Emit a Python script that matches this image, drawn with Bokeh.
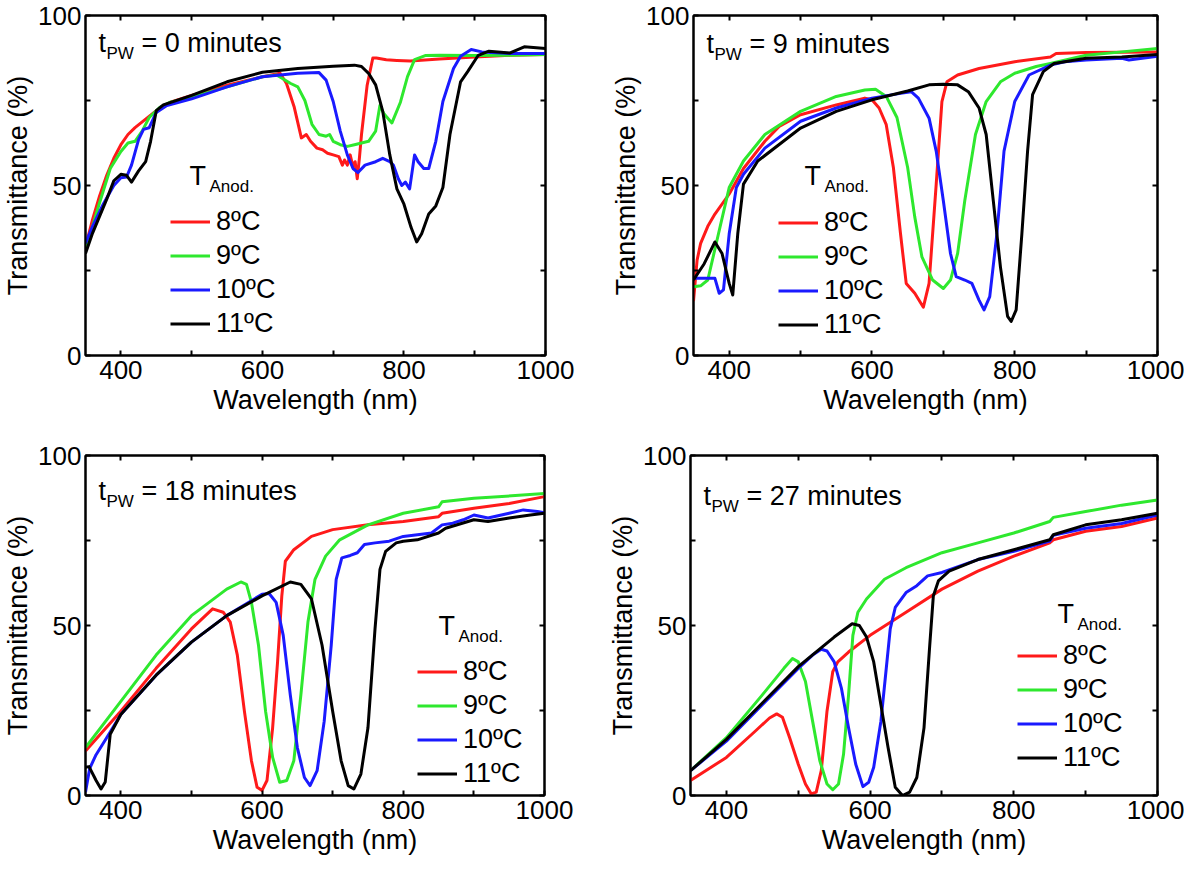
from bokeh.plotting import figure
from bokeh.models import Range1d, FixedTicker, LinearAxis, Legend, LegendItem, Label
from bokeh.layouts import column, row
from bokeh.embed import file_html
from bokeh.resources import INLINE

FONT = "Liberation Sans"

# ---------------- data ----------------
temps = ["8ºC", "9ºC", "10ºC", "11ºC"]
colors = ["#ff1a1a", "#2ee82e", "#1a1aff", "#000000"]
times = ["0", "9", "18", "27"]
x_ticks = [400, 600, 800, 1000]
x_minor = [500, 700, 900]
y_ticks = [0, 50, 100]
y_minor = [25, 75]

# t_PW = 0 minutes
wl_0_8 = [350, 360, 370, 380, 390, 400, 410, 420, 435, 450, 470, 500, 550, 600, 625, 634, 645, 655, 662, 668, 677, 685, 692, 700, 708, 713, 716, 720, 724, 728, 731, 734, 737, 740, 748, 756, 761, 775, 790, 809, 850, 900, 950, 1000]
tr_0_8 = [32, 40, 47, 53, 58, 62, 65, 67, 69.5, 72, 74.5, 76.5, 79.5, 82, 83, 80, 73, 64, 65, 63, 61, 60.5, 59.5, 59, 58.5, 56, 57.5, 56, 59, 55.5, 57, 52, 58, 65, 79.5, 87.5, 87.5, 87, 86.8, 86.6, 87.2, 87.8, 88.3, 88.5]
wl_0_9 = [350, 360, 370, 385, 400, 410, 420, 430, 440, 455, 470, 500, 550, 600, 620, 640, 650, 660, 670, 680, 690, 695, 700, 710, 720, 730, 740, 750, 760, 766, 772, 783, 795, 805, 815, 830, 850, 900, 950, 1000]
tr_0_9 = [31, 38, 45, 55, 60, 62.5, 63, 66, 70, 73, 74.5, 76, 79, 82, 82.5, 80, 79, 75, 68, 65, 64.5, 65, 63, 62, 61.5, 62, 62.5, 63, 66, 73.5, 71, 68.4, 74.5, 82, 87, 88.2, 88.3, 88.2, 88.3, 88.5]
wl_0_10 = [350, 360, 375, 390, 400, 408, 415, 425, 432, 440, 450, 465, 500, 550, 600, 650, 680, 690, 700, 710, 720, 728, 735, 745, 760, 770, 780, 785, 792, 797, 802, 808, 815, 820, 828, 835, 845, 855, 870, 880, 895, 910, 950, 1000]
tr_0_10 = [33, 38, 44.5, 50, 52.3, 52.5, 56, 63.5, 66.5, 67, 71.5, 73.5, 75.5, 79, 82, 83, 83.2, 81, 74.7, 66, 59, 55, 53.8, 56, 57, 58, 57, 56, 52, 50, 51, 49, 59, 57, 55, 55, 63, 74.7, 84.4, 88, 90, 89.3, 88.8, 88.8]
wl_0_11 = [350, 360, 370, 380, 390, 400, 408, 415, 425, 435, 442, 450, 460, 500, 550, 600, 650, 700, 730, 740, 750, 760, 770, 780, 790, 800, 810, 818, 825, 835, 845, 855, 865, 880, 890, 905, 920, 950, 970, 1000]
tr_0_11 = [30, 36, 41, 46, 51.4, 53.3, 53, 51, 54.3, 57, 63, 72, 73.7, 76.5, 80.5, 83.3, 84.4, 85.1, 85.4, 85, 83, 79.6, 71.8, 59, 49, 44.5, 37.7, 33.4, 35.8, 41.6, 44, 49.4, 65, 80.5, 83.5, 88.3, 89.5, 89, 90.8, 90.3]

# t_PW = 9 minutes
wl_9_8 = [350, 355, 360, 370, 380, 400, 420, 450, 470, 500, 550, 590, 600, 610, 620, 630, 640, 648, 660, 672, 680, 690, 698, 705, 720, 750, 800, 850, 858, 900, 1000]
tr_9_8 = [16, 28, 33, 38, 41.6, 47.5, 55, 63, 67.4, 70.8, 73.7, 75.7, 75.2, 72.8, 67.9, 55.3, 35.8, 21.2, 18.3, 14.2, 21.2, 50.4, 74.7, 80.5, 82.5, 84.4, 86.4, 87.8, 88.8, 89.1, 89.3]
wl_9_9 = [350, 360, 370, 385, 400, 420, 450, 500, 550, 590, 605, 620, 635, 650, 660, 670, 685, 700, 710, 720, 730, 745, 760, 780, 800, 830, 850, 900, 950, 1000]
tr_9_9 = [20.2, 20.5, 22.2, 35.8, 49.4, 57.2, 65, 71.8, 76.2, 78.1, 78.3, 76.2, 70, 55.3, 40.7, 29, 22.2, 19.7, 22.2, 30, 45.5, 65, 74.7, 80.5, 83, 85, 85.9, 88.3, 89.3, 90.3]
wl_9_10 = [350, 365, 380, 386, 392, 400, 410, 420, 450, 500, 550, 600, 640, 655, 665, 680, 690, 700, 710, 718, 730, 740, 750, 757, 765, 775, 785, 800, 820, 850, 870, 900, 950, 960, 1000]
tr_9_10 = [22.7, 22.7, 22.7, 18.3, 19.3, 35.8, 49.4, 53.3, 61, 68.9, 72.8, 75.7, 77.1, 77.6, 75.7, 69.8, 60.1, 45.5, 30, 23.2, 22.2, 21.2, 16.3, 13.4, 17.3, 35.8, 60.1, 74.7, 82.5, 85.4, 86.4, 86.9, 87.4, 86.9, 88]
wl_9_11 = [350, 365, 380, 390, 400, 405, 412, 420, 440, 500, 550, 600, 650, 680, 700, 720, 735, 750, 760, 770, 780, 790, 795, 802, 810, 818, 825, 840, 855, 900, 950, 1000]
tr_9_11 = [22.2, 27, 33.4, 30, 21.2, 17.8, 35.8, 50.4, 57.2, 66.9, 71.8, 75.2, 77.8, 79.6, 79.8, 79.6, 77.6, 72.8, 65, 45.5, 26, 11.5, 10, 13.4, 35.8, 60.1, 76.7, 83.5, 85.9, 87.4, 87.8, 88.5]

# t_PW = 18 minutes
wl_18_8 = [350, 400, 450, 500, 530, 545, 555, 565, 575, 585, 593, 600, 607, 615, 622, 628, 633, 645, 670, 700, 750, 800, 850, 855, 900, 950, 1000]
tr_18_8 = [13.1, 24.8, 37.4, 49, 54.9, 53.9, 51, 41.3, 24.8, 10.2, 2.4, 1.5, 4.4, 19.9, 39.3, 58.7, 68.9, 72.3, 76.2, 78.2, 79.6, 80.6, 82, 83, 84.5, 85.9, 87.9]
wl_18_9 = [350, 400, 450, 500, 550, 570, 578, 585, 595, 605, 615, 625, 635, 645, 655, 665, 675, 690, 710, 750, 800, 850, 855, 900, 1000]
tr_18_9 = [14.1, 27.7, 41.3, 52.9, 60.7, 62.8, 62.1, 56.8, 44.2, 24.8, 11.2, 3.9, 4.4, 10.2, 29.6, 51, 63.6, 70.4, 75.2, 79.6, 83, 84.9, 86.4, 87.4, 88.8]
wl_18_10 = [350, 356, 365, 380, 400, 450, 500, 550, 600, 610, 620, 630, 640, 650, 660, 668, 678, 688, 698, 705, 713, 725, 735, 745, 760, 780, 800, 820, 840, 855, 870, 885, 900, 920, 950, 970, 990, 1000]
tr_18_10 = [1, 8, 12, 17, 23.8, 35.4, 45.1, 52.9, 59.2, 59.4, 56.8, 47.1, 29.6, 14.1, 5.3, 2.9, 7.3, 21.8, 44.2, 63.6, 69.9, 70.6, 71.4, 73.8, 74.3, 74.8, 76.2, 76.7, 77.2, 79.6, 80.1, 81.1, 82.5, 81.6, 83, 84, 83.5, 83.2]
wl_18_11 = [350, 355, 365, 372, 378, 385, 400, 450, 500, 550, 600, 640, 655, 670, 685, 700, 712, 722, 730, 740, 750, 760, 767, 775, 790, 800, 820, 850, 860, 900, 920, 950, 980, 1000]
tr_18_11 = [8.3, 8.5, 4.4, 1.9, 4, 18, 23.8, 35.4, 45.1, 52.9, 58.7, 62.8, 62.1, 57.8, 44.2, 24.8, 10.2, 2.9, 1.9, 6.3, 19.9, 49, 66.5, 71.8, 74.3, 74.8, 75.2, 77.2, 78.6, 81.1, 80.6, 81.6, 82.5, 83]

# t_PW = 27 minutes
wl_27_8 = [350, 400, 440, 460, 470, 478, 488, 500, 510, 518, 525, 532, 540, 548, 555, 570, 600, 650, 700, 750, 800, 850, 855, 900, 950, 1000]
tr_27_8 = [4.4, 11.2, 18.9, 22.8, 24, 23, 17, 9.2, 3.4, 0.5, 1, 7.3, 24.8, 36.4, 39.3, 42.2, 47.1, 53.9, 60.7, 66, 70.4, 74.3, 75.2, 77.7, 79.1, 81.6]
wl_27_9 = [350, 400, 450, 480, 492, 500, 510, 520, 530, 540, 548, 556, 563, 570, 576, 583, 595, 620, 650, 700, 750, 800, 850, 855, 900, 950, 1000]
tr_27_9 = [7.3, 17, 29.6, 37.4, 40.3, 39.3, 33.5, 21.8, 10.2, 3.4, 1.7, 3.4, 12.1, 29.6, 47.1, 53.9, 57.8, 63.6, 67, 71.4, 74.3, 77.2, 80.6, 81.8, 83.5, 85.4, 86.9]
wl_27_10 = [350, 400, 450, 500, 520, 532, 540, 550, 560, 570, 580, 590, 598, 605, 615, 622, 628, 635, 650, 665, 680, 700, 750, 800, 850, 855, 900, 950, 1000]
tr_27_10 = [7.3, 16, 26.7, 37.4, 41.3, 43, 42.5, 39.3, 31.6, 19.9, 9.2, 2.6, 3.9, 8.3, 21.8, 36.4, 49, 55.3, 59.7, 61.7, 64.6, 65.6, 69.4, 71.8, 74.8, 76.5, 78.6, 80, 82.5]
wl_27_11 = [350, 400, 450, 500, 550, 575, 585, 595, 605, 615, 625, 635, 645, 655, 665, 675, 683, 688, 695, 710, 750, 800, 850, 855, 900, 950, 1000]
tr_27_11 = [7.3, 16.5, 27.2, 37.9, 46.6, 50.5, 50, 46.6, 39.3, 26.7, 14.1, 2.4, 0, 1, 5.3, 19.9, 44.2, 58.7, 63.1, 66, 69.4, 72.3, 75.2, 76.7, 79.6, 81.1, 83]

panel_data = {
    "0": [(wl_0_8, tr_0_8), (wl_0_9, tr_0_9), (wl_0_10, tr_0_10), (wl_0_11, tr_0_11)],
    "9": [(wl_9_8, tr_9_8), (wl_9_9, tr_9_9), (wl_9_10, tr_9_10), (wl_9_11, tr_9_11)],
    "18": [(wl_18_8, tr_18_8), (wl_18_9, tr_18_9), (wl_18_10, tr_18_10), (wl_18_11, tr_18_11)],
    "27": [(wl_27_8, tr_27_8), (wl_27_9, tr_27_9), (wl_27_10, tr_27_10), (wl_27_11, tr_27_11)],
}

# ---------------- layout / style ----------------
W, H = 592, 432
LEG_SHIFT = 11
# offsets measured from the frame's top-left corner (screen pixels)
layout_cfg = {
    "0":  dict(bl=78, br=47, bt=15, bb=77, tb=27, lx=85, lc=195, tx=104, tbase=160),
    "9":  dict(bl=101, br=27, bt=15, bb=77, tb=28, lx=85, lc=196, tx=111, tbase=160),
    "18": dict(bl=78, br=48, bt=23, bb=69, tb=35, lx=332, lc=205, tx=353, tbase=170),
    "27": dict(bl=98, br=27, bt=23, bb=69, tb=40, lx=327, lc=189, tx=367, tbase=158),
}


def style_axis(ax, label_standoff, title_standoff):
    ax.axis_line_color = "black"
    ax.axis_line_width = 2
    ax.major_tick_in = 5
    ax.major_tick_out = 0
    ax.minor_tick_in = 5
    ax.minor_tick_out = 0
    ax.major_tick_line_width = 2
    ax.minor_tick_line_width = 2
    ax.major_tick_line_color = "black"
    ax.minor_tick_line_color = "black"
    ax.major_label_text_font = FONT
    ax.major_label_text_font_size = "26px"
    ax.major_label_text_color = "black"
    ax.major_label_standoff = label_standoff
    ax.axis_label_text_font = FONT
    ax.axis_label_text_font_size = "27px"
    ax.axis_label_text_font_style = "normal"
    ax.axis_label_text_color = "black"
    ax.axis_label_standoff = title_standoff


def make_panel(t):
    c = layout_cfg[t]
    p = figure(width=W, height=H, x_range=Range1d(350, 1000), y_range=Range1d(0, 100),
               output_backend="svg", toolbar_location=None,
               x_axis_type=None, y_axis_type=None,
               min_border_left=c["bl"], min_border_right=c["br"],
               min_border_top=c["bt"], min_border_bottom=c["bb"])
    p.grid.visible = False
    p.outline_line_color = "black"
    p.outline_line_width = 2
    p.background_fill_color = "white"
    p.border_fill_color = "white"

    xb = LinearAxis(ticker=FixedTicker(ticks=x_ticks, minor_ticks=x_minor), axis_label="Wavelength (nm)")
    yl = LinearAxis(ticker=FixedTicker(ticks=y_ticks, minor_ticks=y_minor), axis_label="Transmittance (%)")
    xt = LinearAxis(ticker=FixedTicker(ticks=[], minor_ticks=x_ticks + x_minor))
    yr = LinearAxis(ticker=FixedTicker(ticks=[], minor_ticks=y_ticks + y_minor))
    style_axis(xb, 5, 3)
    style_axis(yl, 4, 2)
    style_axis(xt, 0, 0)
    style_axis(yr, 0, 0)
    p.add_layout(xb, "below")
    p.add_layout(yl, "left")
    p.add_layout(xt, "above")
    p.add_layout(yr, "right")

    renderers = []
    for (wl, tr), col in zip(panel_data[t], colors):
        r = p.line(wl, tr, line_color=col, line_width=3, line_join="round")
        renderers.append(r)

    fh = H - c["bt"] - c["bb"]

    # title  t_PW = N minutes
    tb = c["tb"]
    p.add_layout(Label(x=13, y=fh - tb, x_units="screen", y_units="screen", text="t",
                       text_font=FONT, text_font_size="27px", text_baseline="alphabetic", text_color="black"))
    p.add_layout(Label(x=21, y=fh - tb - 11, x_units="screen", y_units="screen", text="PW",
                       text_font=FONT, text_font_size="17px", text_baseline="alphabetic", text_color="black"))
    p.add_layout(Label(x=56, y=fh - tb, x_units="screen", y_units="screen", text="= %s minutes" % t,
                       text_font=FONT, text_font_size="27px", text_baseline="alphabetic", text_color="black"))

    # legend title  T_Anod.
    p.add_layout(Label(x=c["tx"], y=fh - c["tbase"], x_units="screen", y_units="screen", text="T",
                       text_font=FONT, text_font_size="27px", text_baseline="alphabetic", text_color="black"))
    p.add_layout(Label(x=c["tx"] + 20, y=fh - c["tbase"] - 11, x_units="screen", y_units="screen", text="Anod.",
                       text_font=FONT, text_font_size="17px", text_baseline="alphabetic", text_color="black"))

    pitch = 34
    item_h = 31
    bottom = c["lc"] + 3 * pitch + item_h / 2 + LEG_SHIFT
    legend = Legend(items=[LegendItem(label=lab, renderers=[r]) for lab, r in zip(temps, renderers)],
                    location=(c["lx"], fh - bottom), orientation="vertical",
                    glyph_width=40, glyph_height=item_h, label_height=item_h,
                    spacing=pitch - item_h, padding=0, margin=0, label_standoff=6,
                    label_text_font=FONT, label_text_font_size="27px", label_text_color="black",
                    border_line_alpha=0, background_fill_alpha=0)
    p.add_layout(legend)
    return p


p0 = make_panel("0")
p9 = make_panel("9")
p18 = make_panel("18")
p27 = make_panel("27")

layout = column(row(p0, p9), row(p18, p27))

open("out.html", "w").write(file_html(layout, INLINE))
